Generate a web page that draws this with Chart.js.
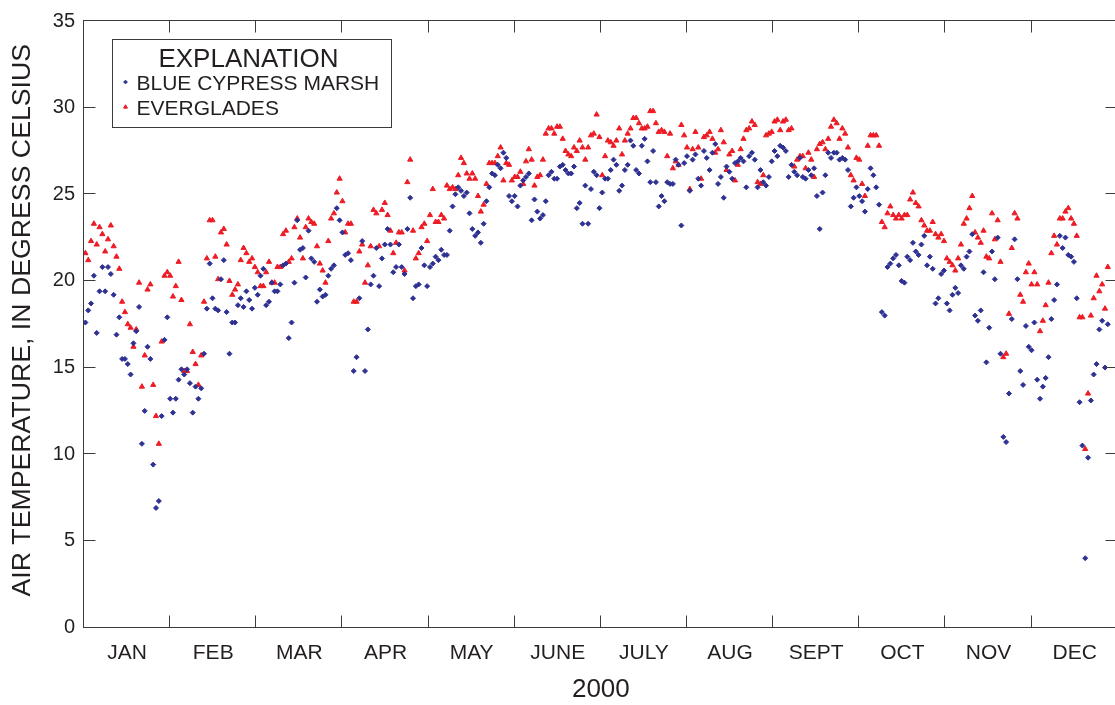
<!DOCTYPE html>
<html>
<head>
<meta charset="utf-8">
<title>Daily air temperature, 2000</title>
<script src="https://cdn.jsdelivr.net/npm/chart.js@4.4.1/dist/chart.umd.min.js"></script>
<style>
  html, body { margin: 0; padding: 0; background: #fff; overflow: hidden; }
  #chart { display: block; }
</style>
</head>
<body>
<canvas id="chart" width="1115" height="705"></canvas>
<script>
// Month names shown under the time axis (2000 is a leap year: 366 days)
const monthLabels = ['JAN', 'FEB', 'MAR', 'APR', 'MAY', 'JUNE', 'JULY', 'AUG', 'SEPT', 'OCT', 'NOV', 'DEC'];
const yearLabel = '2000';
const yAxisTitle = 'AIR TEMPERATURE, IN DEGRESS CELSIUS';
const yTickValues = [0, 5, 10, 15, 20, 25, 30, 35];

// Daily mean air temperature (deg C), one value per day of year, Jan 1 first
const marshTemps = [
  17.6, 18.3, 18.7, 20.3, 17.0, 19.4, 20.8, 19.4, 20.8, 20.4, 19.2, 16.9, 17.9, 15.5, 15.5, 15.2, 14.6, 16.4, 17.1, 18.5, 10.6, 12.5, 16.2, 15.5, 9.4, 6.9, 7.3, 12.2, 16.6, 17.9, 13.2,
  12.4, 13.2, 14.3, 14.9, 14.6, 14.9, 14.1, 12.4, 13.9, 13.2, 13.8, 15.8, 18.4, 21.0, 19.0, 18.4, 18.3, 20.1, 21.2, 18.2, 15.8, 17.6, 17.6, 18.6, 19.0, 18.5, 19.4, 18.9, 18.4,
  19.6, 19.2, 20.3, 20.7, 18.6, 18.8, 19.9, 19.4, 19.4, 19.8, 20.9, 21.0, 16.7, 17.6, 19.9, 23.5, 21.8, 21.9, 20.2, 22.9, 21.3, 21.1, 18.8, 19.5, 19.1, 19.2, 20.3, 20.7, 20.9, 24.2, 23.5,
  22.8, 21.5, 21.6, 21.2, 14.8, 15.6, 19.0, 22.3, 14.8, 17.2, 19.8, 20.3, 21.9, 19.7, 21.3, 22.1, 23.0, 22.1, 20.5, 20.8, 22.1, 20.8, 20.4, 23.0, 24.8, 19.0, 19.7, 19.8, 21.9, 20.9,
  19.7, 20.8, 21.0, 21.4, 21.2, 21.8, 21.5, 21.5, 22.9, 24.3, 25.0, 25.4, 25.2, 24.9, 25.1, 23.9, 23.0, 22.6, 22.8, 22.2, 23.3, 24.6, 25.4, 26.2, 26.1, 26.7, 26.5, 27.4, 27.1, 24.9, 24.6,
  24.9, 24.3, 25.5, 25.8, 26.0, 26.2, 23.5, 24.7, 24.0, 23.6, 23.8, 24.6, 26.1, 26.3, 25.9, 25.9, 26.6, 26.7, 26.4, 26.2, 26.2, 26.6, 24.2, 24.5, 23.3, 25.5, 23.3, 25.3, 26.3, 26.1,
  24.2, 25.1, 25.9, 25.9, 26.4, 27.0, 26.7, 25.2, 25.5, 26.4, 26.7, 28.1, 27.8, 26.4, 26.2, 27.8, 28.2, 26.9, 25.7, 27.5, 25.7, 24.3, 24.9, 24.6, 25.7, 25.6, 25.6, 27.0, 26.7, 23.2, 26.8,
  27.2, 25.2, 27.0, 27.3, 25.9, 25.5, 27.5, 27.1, 26.4, 27.4, 27.9, 25.6, 26.0, 24.8, 26.6, 26.3, 25.9, 26.8, 26.9, 27.1, 26.9, 25.4, 27.2, 27.4, 27.0, 25.4, 26.4, 25.7, 25.5, 26.0, 26.9,
  27.5, 27.2, 27.8, 27.7, 27.5, 26.0, 26.7, 26.3, 26.1, 27.1, 26.0, 25.9, 26.4, 26.1, 26.5, 24.9, 23.0, 25.1, 26.1, 27.4, 27.1, 27.4, 27.4, 27.0, 27.1, 27.0, 26.4, 24.3, 24.8, 25.4,
  24.9, 24.6, 24.0, 25.3, 26.5, 26.1, 25.4, 24.4, 18.2, 18.0, 20.8, 21.0, 21.3, 21.5, 20.9, 20.0, 19.9, 21.4, 21.2, 22.2, 21.7, 21.5, 22.1, 22.6, 20.9, 21.4, 20.7, 18.7, 19.0, 20.4, 20.6,
  18.7, 18.3, 19.2, 19.6, 19.3, 20.9, 20.7, 21.4, 21.7, 22.7, 18.0, 17.7, 18.3, 20.5, 15.3, 17.3, 21.7, 20.1, 22.5, 15.8, 11.0, 10.7, 13.5, 17.8, 22.4, 20.1, 14.8, 14.0, 17.4, 16.2,
  16.0, 17.6, 14.3, 13.2, 13.9, 14.4, 15.6, 17.8, 18.9, 19.8, 22.6, 21.9, 22.5, 21.5, 21.4, 21.1, 19.0, 13.0, 10.5, 4.0, 9.8, 13.1, 14.6, 15.2, 17.2, 17.7, 15.0, 17.5, null, null, null
];

const evergladesTemps = [
  21.6, 21.2, 22.3, 23.3, 22.1, 23.1, 22.7, 21.7, 22.4, 23.2, 22.0, 21.4, 20.7, 18.8, 18.2, 17.5, 17.3, 16.2, 17.2, 19.9, 13.9, 15.7, 19.5, 19.8, 14.0, 12.2, 10.6, 16.5, 20.3, 20.5, 20.3,
  19.1, 19.7, 21.1, 18.9, 14.8, 14.8, 17.5, 15.9, 15.2, 14.0, 15.7, 18.8, 21.3, 23.5, 23.5, 21.4, 20.1, 22.8, 23.0, 22.1, 20.0, 19.2, 19.5, 19.8, 21.2, 21.9, 21.6, 21.1, 21.3,
  20.8, 20.5, 19.7, 19.7, 20.5, 21.1, 19.9, 19.9, 20.8, 20.8, 22.7, 22.9, 21.1, 21.3, 23.1, 23.6, 22.5, 21.3, 23.1, 23.6, 23.4, 23.3, 22.0, 21.0, 20.6, 19.9, 22.3, 23.6, 23.9, 25.1, 25.9,
  24.6, 22.8, 23.3, 23.3, 18.8, 18.8, 21.7, 22.1, 19.9, 20.9, 22.0, 24.1, 23.9, 22.0, 24.1, 24.5, 23.8, 22.9, 21.6, 22.2, 22.8, 22.8, 20.6, 25.7, 27.0, 22.9, 21.3, 21.6, 23.1, 23.3,
  22.3, 23.8, 25.3, 23.4, 23.4, 23.8, 23.6, 25.5, 25.3, 25.4, 25.3, 26.1, 27.1, 26.8, 26.2, 25.9, 26.2, 25.9, 24.9, 24.0, 24.4, 25.6, 26.8, 26.8, 26.8, 27.2, 27.7, 25.8, 26.8, 26.7, 25.8,
  26.0, 26.0, 26.3, 25.6, 26.9, 27.6, 27.0, 25.5, 26.0, 26.1, 27.0, 28.5, 28.8, 28.8, 28.5, 28.9, 28.9, 28.2, 27.5, 27.3, 27.2, 27.7, 27.5, 28.1, 27.7, 27.0, 27.7, 28.4, 28.5, 29.6,
  28.3, 26.1, 27.2, 28.1, 28.0, 27.8, 28.1, 28.8, 27.3, 28.1, 28.5, 28.8, 29.4, 29.4, 29.1, 28.8, 28.8, 28.9, 29.8, 29.8, 29.1, 28.6, 28.7, 28.6, 27.2, 28.5, 26.5, 26.9, 26.7, 29.0, 28.4,
  27.7, 25.3, 27.6, 28.6, 27.7, 25.9, 28.3, 28.4, 28.6, 28.2, 27.4, 27.6, 28.7, 28.0, 26.4, 27.3, 27.5, 25.8, 26.7, 27.6, 28.2, 28.7, 28.8, 29.2, 29.0, 25.7, 25.6, 26.1, 28.4, 28.5, 28.6,
  29.2, 29.3, 28.7, 29.2, 29.3, 28.7, 28.8, 26.6, 27.0, 27.2, 27.2, 26.5, 27.4, 27.0, 26.0, 27.6, 27.9, 28.0, 27.6, 28.2, 28.9, 29.3, 29.1, 28.2, 28.8, 28.5, 27.7, 26.1, 25.8, 27.1,
  27.0, 25.6, 24.9, 27.8, 28.4, 28.4, 28.4, 27.8, 23.4, 23.1, 23.9, 24.3, 23.8, 23.6, 23.8, 23.6, 23.8, 23.8, 24.7, 25.1, 24.5, 24.3, 23.5, 23.2, 22.9, 22.9, 23.4, 22.7, 22.5, 22.7, 22.3,
  21.3, 21.1, 20.9, 20.6, 21.3, 22.1, 23.3, 23.6, 24.2, 24.9, 22.8, 22.5, 22.2, 22.9, 21.4, 21.3, 23.9, 22.4, 23.5, 21.1, 15.6, 15.8, 18.1, 21.9, 23.9, 23.6, 19.2, 18.8, 20.5, 21.0,
  19.8, 20.5, 19.8, 17.1, 17.7, 18.6, 19.9, 21.6, 22.6, 22.1, 23.6, 23.6, 24.0, 24.2, 23.6, 23.3, 22.6, 17.9, 17.9, 10.3, 13.5, 18.0, 19.0, 20.3, 19.4, 19.8, 18.4, 20.8, null, null, null
];

const seriesNames = ['BLUE CYPRESS MARSH', 'EVERGLADES'];
const seriesColors = ['#2e3192', '#ed1c24'];

const DAYS_IN_YEAR = 366;
const MONTH_SPAN = DAYS_IN_YEAR / 12;
const FONT = "'Liberation Sans', Arial, Helvetica, sans-serif";
const INK = '#231f20';
// The plot frame continues a few pixels past the right edge of the canvas
const RIGHT_OVERHANG = 7.7;

// Day-of-year points, plotted at mid-day
const toPoints = temps => temps
  .map((t, i) => ({ x: i + 0.5, y: t }))
  .filter(p => p.y !== null);

// Stretch the time axis so its right end sits just beyond the canvas
const overhangPlugin = {
  id: 'overhang',
  afterLayout(chart) {
    const x = chart.scales.x;
    x.right += RIGHT_OVERHANG;
    x.width += RIGHT_OVERHANG;
    x.configure();
    chart.chartArea.right += RIGHT_OVERHANG;
    chart.chartArea.width += RIGHT_OVERHANG;
  }
};

// Box around the plot with inward tick marks on all four sides, plus the rotated axis title
const framePlugin = {
  id: 'frame',
  afterDatasetsDraw(chart) {
    const { ctx, chartArea: a, scales: { x, y } } = chart;
    const L = Math.round(a.left) - 0.5, R = Math.round(a.right) - 0.5;
    const T = Math.round(a.top) - 0.5, B = Math.round(a.bottom) - 0.5;
    const len = 12;
    ctx.save();
    ctx.strokeStyle = '#3b3b3b';
    ctx.lineWidth = 1;
    ctx.strokeRect(L, T, R - L, B - T);
    ctx.beginPath();
    yTickValues.forEach(v => {
      const py = Math.round(y.getPixelForValue(v)) - 0.5;
      ctx.moveTo(L, py); ctx.lineTo(L + len, py);
      ctx.moveTo(R, py); ctx.lineTo(R - len, py);
    });
    for (let m = 1; m < monthLabels.length; m++) {
      const px = Math.round(x.getPixelForValue(m * MONTH_SPAN)) - 0.5;
      ctx.moveTo(px, B); ctx.lineTo(px, B - len);
      ctx.moveTo(px, T); ctx.lineTo(px, T + len);
    }
    ctx.stroke();

    ctx.translate(23, (a.top + a.bottom) / 2 - 4);
    ctx.rotate(-Math.PI / 2);
    ctx.fillStyle = INK;
    ctx.font = `26.7px ${FONT}`;
    ctx.textAlign = 'center';
    ctx.textBaseline = 'middle';
    ctx.fillText(yAxisTitle, 0, 0);
    ctx.restore();
  }
};

// Boxed "EXPLANATION" key in the upper left of the plot
const explanationPlugin = {
  id: 'explanation',
  afterDraw(chart) {
    const { ctx } = chart;
    const box = { x: 112.5, y: 39.5, w: 279, h: 88 };
    ctx.save();
    ctx.fillStyle = '#fff';
    ctx.fillRect(box.x, box.y, box.w, box.h);
    ctx.strokeStyle = '#3b3b3b';
    ctx.lineWidth = 1;
    ctx.strokeRect(box.x, box.y, box.w, box.h);
    ctx.fillStyle = INK;
    ctx.textBaseline = 'alphabetic';
    ctx.textAlign = 'center';
    ctx.font = `26px ${FONT}`;
    ctx.fillText('EXPLANATION', box.x + 136, 67);
    ctx.textAlign = 'left';
    ctx.font = `21px ${FONT}`;
    const rows = [90, 115];
    chart.data.datasets.forEach((ds, i) => {
      const my = rows[i] - 8;
      ctx.fillStyle = ds.backgroundColor;
      ctx.strokeStyle = ds.borderColor;
      Chart.helpers.drawPoint(ctx, {
        pointStyle: ds.pointStyle, radius: ds.pointRadius * 0.75, rotation: 0, borderWidth: 1
      }, 125.5, my);
      ctx.fillStyle = INK;
      ctx.fillText(ds.label, 136.5, rows[i]);
    });
    ctx.restore();
  }
};

new Chart(document.getElementById('chart'), {
  type: 'scatter',
  data: {
    datasets: [
      {
        label: seriesNames[0],
        data: toPoints(marshTemps),
        pointStyle: 'rectRot',
        pointRadius: 2.5,
        borderWidth: 1,
        backgroundColor: seriesColors[0],
        borderColor: seriesColors[0],
        order: 0
      },
      {
        label: seriesNames[1],
        data: toPoints(evergladesTemps),
        pointStyle: 'triangle',
        pointRadius: 3,
        borderWidth: 1,
        backgroundColor: seriesColors[1],
        borderColor: seriesColors[1],
        order: 1
      }
    ]
  },
  options: {
    responsive: false,
    maintainAspectRatio: false,
    devicePixelRatio: 1,
    animation: false,
    events: [],
    layout: { padding: { top: 13.5, left: 0, right: 0, bottom: 0 } },
    plugins: { legend: { display: false }, tooltip: { enabled: false } },
    scales: {
      x: {
        type: 'linear',
        min: 0,
        max: DAYS_IN_YEAR,
        grid: { display: false, drawTicks: false },
        border: { display: false },
        afterBuildTicks(scale) {
          scale.ticks = monthLabels.map((_, i) => ({ value: (i + 0.5) * MONTH_SPAN }));
        },
        afterFit(scale) { scale.height = 77.5; },
        ticks: {
          autoSkip: false,
          maxRotation: 0,
          padding: 13,
          color: INK,
          font: { family: FONT, size: 21 },
          callback: (v, i) => monthLabels[i]
        },
        title: {
          display: true,
          text: yearLabel,
          color: INK,
          font: { family: FONT, size: 26 },
          padding: { top: 0, bottom: 0 }
        }
      },
      y: {
        min: 0,
        max: 35,
        grid: { display: false, drawTicks: false },
        border: { display: false },
        afterBuildTicks(scale) {
          scale.ticks = yTickValues.map(v => ({ value: v }));
        },
        afterFit(scale) { scale.width = 84; },
        ticks: {
          padding: 9,
          color: INK,
          font: { family: FONT, size: 20 }
        },
        title: { display: false }
      }
    }
  },
  plugins: [overhangPlugin, framePlugin, explanationPlugin]
});
</script>
</body>
</html>
